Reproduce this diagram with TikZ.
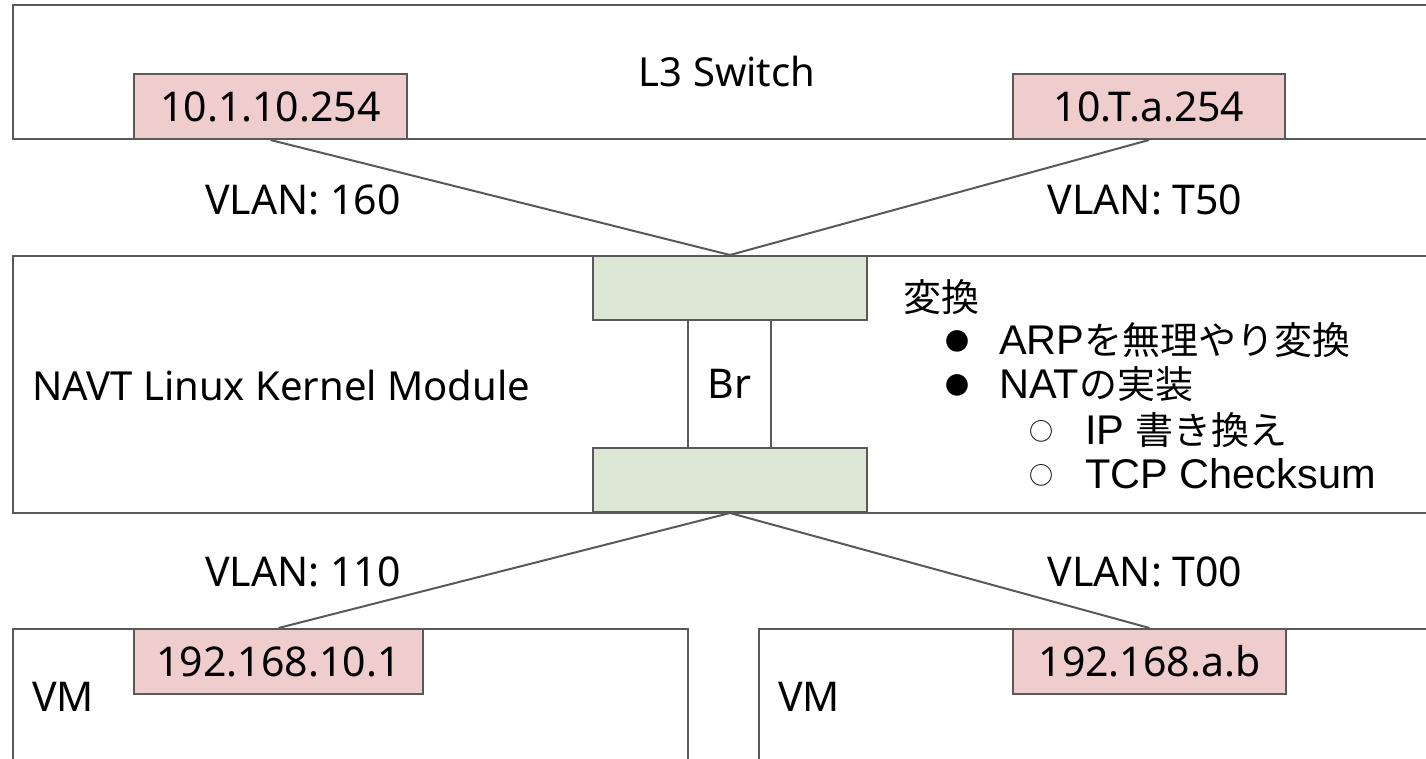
\documentclass[tikz,border=0pt]{standalone}
\usepackage{fontspec}
\setmainfont{Noto Sans}
\newfontfamily\cjk{Noto Sans CJK JP}
\newfontfamily\lst{Liberation Sans}
\definecolor{edge}{HTML}{595959}
\definecolor{pinkfill}{HTML}{EFCDCD}
\definecolor{greenfill}{HTML}{DCE8D5}
\tikzset{
  box/.style={draw=edge, line width=2pt, fill=white, inner sep=0pt, anchor=north west},
  ipbox/.style={box, fill=pinkfill, minimum height=65pt, font=\fontsize{41}{46}\selectfont},
  grbox/.style={box, fill=greenfill, minimum width=274pt, minimum height=64pt},
  lbl/.style={inner sep=0pt, font=\fontsize{41}{46}\selectfont},
  lst/.style={inner sep=0pt, anchor=west, font=\fontsize{38}{42}\selectfont},
  bul/.style={inner sep=0pt, anchor=center, font=\fontsize{24}{26}\selectfont\cjk},
  wire/.style={draw=edge, line width=2pt}
}
\newcommand{\latn}[1]{{\lst\fontsize{41.5}{44}\selectfont #1}}
\begin{document}
\begin{tikzpicture}[x=1pt,y=-1pt]
\clip (0,0) rectangle (1426,759);
\fill[white] (0,0) rectangle (1426,759);
% outer boxes
\node[box, minimum width=1428pt, minimum height=134pt, font=\fontsize{40}{46}\selectfont] (l3) at (12,4) {L3 Switch};
\node[box, minimum width=1428pt, minimum height=257pt] (navt) at (12,255) {};
\node[box, minimum width=675pt, minimum height=200pt] (vm1) at (12,628) {};
\node[box, minimum width=700pt, minimum height=200pt] (vm2) at (758,628) {};
% ip boxes
\node[ipbox, minimum width=273pt] (ip1) at (133,73) {10.1.10.254};
\node[ipbox, minimum width=272pt] (ip2) at (1012,73) {10.T.a.254};
\node[ipbox, minimum width=289pt] (ip3) at (133,628) {192.168.10.1};
\node[ipbox, minimum width=273pt] (ip4) at (1012,628) {192.168.a.b};
% bridge
\node[box, minimum width=83pt, minimum height=128pt, font=\fontsize{41}{46}\selectfont] (br) at (687,319) {Br};
\node[grbox] (gtop) at (592,255) {};
\node[grbox] (gbot) at (592,447) {};
% connectors
\draw[wire] (ip1.south) -- (gtop.north);
\draw[wire] (ip2.south) -- (gtop.north);
\draw[wire] (gbot.south) -- (ip3.north);
\draw[wire] (gbot.south) -- (ip4.north);
% labels
\node[lbl] (v160) at (303,200) {VLAN: 160};
\node[lbl] (vt50) at (1145,200) {VLAN: T50};
\node[lbl] (v110) at (303,572) {VLAN: 110};
\node[lbl] (vt00) at (1145,572) {VLAN: T00};
\node[lbl, anchor=west, font=\fontsize{40}{46}\selectfont] (navtl) at (32,385) {NAVT Linux Kernel Module};
\node[lbl, anchor=west] (vm1l) at (32,697) {VM};
\node[lbl, anchor=west] (vm2l) at (778,697) {VM};
% list
\node[lst] (h) at (903,297) {\cjk 変換};
\node[bul] (b1) at (957,341) {●};
\node[lst] (t1) at (999,340) {\latn{ARP}\cjk を無理やり変換};
\node[bul] (b2) at (957,385) {●};
\node[lst] (t2) at (999,384) {\latn{NAT}\cjk の実装};
\node[bul] (b3) at (1041,431) {○};
\node[lst] (t3) at (1085,430) {\latn{IP }\cjk 書き換え};
\node[bul] (b4) at (1041,475) {○};
\node[lst] (t4) at (1085,474) {\latn{TCP Checksum}};
\end{tikzpicture}
\end{document}
